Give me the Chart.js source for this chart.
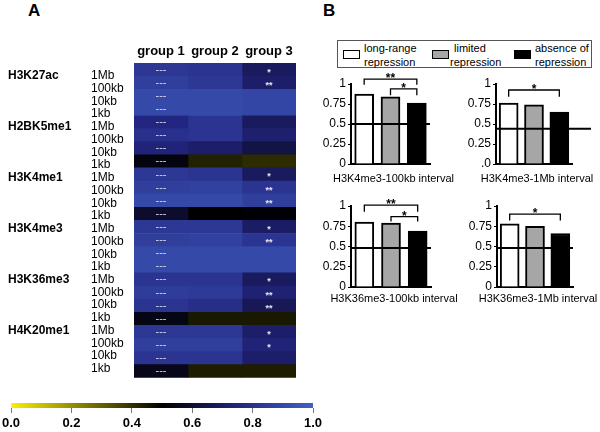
<!DOCTYPE html>
<html>
<head>
<meta charset="utf-8">
<script src="https://cdn.jsdelivr.net/npm/chart.js@4"></script>
<style>
body{margin:0;width:600px;height:432px;position:relative;background:#fff;font-family:"Liberation Sans",Arial,sans-serif;overflow:hidden}
canvas{position:absolute}
.panel{position:absolute;font-weight:bold;font-size:17px;line-height:17px}
#legend{position:absolute;left:337px;top:40px;width:253px;height:26px;border:1.5px solid #555;font-size:11px;line-height:14px}
.sw{position:absolute;top:9px;width:17px;height:9px;border:1.5px solid #000;box-sizing:border-box}
.lt{position:absolute;white-space:nowrap}
</style>
</head>
<body>
<div class="panel" style="left:28px;top:2px">A</div>
<div class="panel" style="left:323px;top:2px">B</div>

<canvas id="heat" width="330" height="385" style="left:0;top:0"></canvas>
<canvas id="cbar" width="331" height="37" style="left:-1px;top:395px"></canvas>

<div id="legend">
  <div class="sw" style="left:5px;background:#fff"></div>
  <div class="lt" style="left:26px;top:0">long-range</div>
  <div class="lt" style="left:26px;top:14px">repression</div>
  <div class="sw" style="left:94px;background:#a6a6a6"></div>
  <div class="lt" style="left:116px;top:0">limited</div>
  <div class="lt" style="left:112px;top:14px">repression</div>
  <div class="sw" style="left:176px;background:#000"></div>
  <div class="lt" style="left:197px;top:0">absence of</div>
  <div class="lt" style="left:197px;top:14px">repression</div>
</div>

<canvas id="b1" width="152" height="120" style="left:305px;top:70px"></canvas>
<canvas id="b2" width="150" height="120" style="left:450px;top:70px"></canvas>
<canvas id="b3" width="158" height="118" style="left:305px;top:192px"></canvas>
<canvas id="b4" width="149" height="118" style="left:451px;top:192px"></canvas>

<script>
const FONT = '"Liberation Sans", Arial, sans-serif';

// panel A data
const marks = ['H3K27ac', 'H2BK5me1', 'H3K4me1', 'H3K4me3', 'H3K36me3', 'H4K20me1'];
const sizes = ['1Mb', '100kb', '10kb', '1kb'];
const groups = ['group 1', 'group 2', 'group 3'];
const group1 = [0.83,0.86,0.90,0.90, 0.76,0.80,0.74,0.53, 0.83,0.86,0.90,0.59, 0.83,0.86,0.90,0.90, 0.82,0.85,0.82,0.54, 0.83,0.86,0.82,0.55];
const group2 = [0.82,0.83,0.90,0.90, 0.82,0.82,0.71,0.43, 0.82,0.87,0.90,0.50, 0.83,0.87,0.90,0.90, 0.82,0.84,0.79,0.45, 0.83,0.86,0.82,0.44];
const group3 = [0.69,0.71,0.89,0.89, 0.69,0.72,0.64,0.41, 0.69,0.82,0.86,0.51, 0.70,0.82,0.90,0.90, 0.69,0.73,0.67,0.45, 0.71,0.74,0.71,0.44];
const group3Stars = ['*','**','','', '','','','', '*','**','**','', '*','**','','', '*','**','**','', '*','*','',''];
const cbarTicks = [0, 0.2, 0.4, 0.6, 0.8, 1.0];

// panel B data
const repressionTypes = ['long-range repression', 'limited repression', 'absence of repression'];
const k4me3_100kb = [0.875, 0.84, 0.76];
const k4me3_1Mb = [0.76, 0.74, 0.65];
const k36me3_100kb = [0.80, 0.79, 0.69];
const k36me3_1Mb = [0.78, 0.75, 0.66];
const yTickLabels = ['0', '0.25', '0.5', '0.75', '1'];
const yTickLabelsDot = ['.0', '0.25', '0.5', '0.75', '1'];

// colour scale: yellow -> black -> blue
const cmapPos = [0, 0.5, 0.75, 1];
const cmapRgb = [[250,240,0], [0,0,0], [34,36,125], [66,97,196]];

function cmap(v) {
  for (let i = 1; i < cmapPos.length; i++) {
    if (v <= cmapPos[i]) {
      const t = (v - cmapPos[i-1]) / (cmapPos[i] - cmapPos[i-1]);
      const a = cmapRgb[i-1], b = cmapRgb[i];
      return 'rgb(' + a.map((c, k) => Math.round(c + (b[k] - c) * t)).join(',') + ')';
    }
  }
  return 'rgb(' + cmapRgb[cmapRgb.length-1].join(',') + ')';
}

const rowLabels = [];
marks.forEach(() => sizes.forEach(s => rowLabels.push(s)));

// text inside the cells and the histone mark names
const heatText = {
  id: 'heatText',
  afterDatasetsDraw(chart) {
    const c = chart.ctx, ys = chart.scales.y2;
    c.save();
    c.fillStyle = '#000';
    c.textAlign = 'left';
    c.textBaseline = 'middle';
    c.font = 'bold 12px ' + FONT;
    marks.forEach((m, k) => c.fillText(m, 8, ys.getPixelForValue(k * sizes.length)));

    c.textAlign = 'center';
    c.fillStyle = '#d8d8e4';
    c.font = '11px ' + FONT;
    chart.getDatasetMeta(0).data.forEach(b => c.fillText('---', (b.x + b.base) / 2, b.y));
    c.fillStyle = '#e6e6f0';
    c.font = 'bold 9px ' + FONT;
    c.textBaseline = 'alphabetic';
    chart.getDatasetMeta(2).data.forEach((b, i) => {
      if (group3Stars[i]) c.fillText(group3Stars[i], (b.x + b.base) / 2, b.y + 5);
    });
    c.restore();
  }
};

new Chart(document.getElementById('heat'), {
  type: 'bar',
  data: {
    labels: rowLabels,
    datasets: [group1, group2, group3].map((g, k) => ({
      label: groups[k],
      data: g.map(() => 1),
      backgroundColor: g.map(cmap),
      borderWidth: 0,
      barPercentage: 1,
      categoryPercentage: 1
    }))
  },
  options: {
    indexAxis: 'y',
    responsive: false,
    animation: false,
    events: [],
    layout: { padding: { left: 91, top: 33, right: 34, bottom: 5 } },
    plugins: { legend: { display: false }, tooltip: { enabled: false } },
    scales: {
      x: {
        position: 'top', stacked: true, min: 0, max: 3,
        grid: { display: false, drawTicks: false }, border: { display: false },
        afterBuildTicks: s => { s.ticks = [{ value: 0.5 }, { value: 1.5 }, { value: 2.5 }]; },
        afterFit: s => { s.height = 30; },
        ticks: { autoSkip: false, maxRotation: 0, padding: 4, color: '#000',
                 font: { family: FONT, size: 13, weight: 'bold' },
                 callback: (v, i) => groups[i] }
      },
      y: { stacked: true, display: false },
      // row labels sit on a slightly tighter pitch than the cells
      y2: {
        type: 'linear', position: 'left', reverse: true, offset: false,
        min: -1.01, max: 23.7,
        grid: { display: false, drawTicks: false, offset: false }, border: { display: false },
        afterBuildTicks: s => { s.ticks = rowLabels.map((l, i) => ({ value: i })); },
        afterFit: s => { s.width = 43; },
        ticks: { autoSkip: false, crossAlign: 'far', color: '#000', padding: 0,
                 font: { family: FONT, size: 12 },
                 callback: (v, i) => rowLabels[i] }
      }
    }
  },
  plugins: [heatText]
});

// colour bar
new Chart(document.getElementById('cbar'), {
  type: 'bar',
  data: {
    labels: [''],
    datasets: [{
      data: [[cbarTicks[0], cbarTicks[cbarTicks.length-1]]],
      barPercentage: 1, categoryPercentage: 1, borderWidth: 0,
      backgroundColor: ctx => {
        const ch = ctx.chart;
        if (!ch.chartArea) return '#000';
        const xs = ch.scales.x;
        const g = ch.ctx.createLinearGradient(xs.getPixelForValue(0), 0, xs.getPixelForValue(1), 0);
        cmapPos.forEach((p, i) => g.addColorStop(p, 'rgb(' + cmapRgb[i].join(',') + ')'));
        return g;
      }
    }]
  },
  options: {
    indexAxis: 'y',
    responsive: false,
    animation: false,
    events: [],
    layout: { padding: { left: 0, top: 8, right: 17, bottom: 0 } },
    plugins: { legend: { display: false }, tooltip: { enabled: false } },
    scales: {
      x: {
        min: 0, max: 1,
        afterBuildTicks: s => { s.ticks = cbarTicks.map(v => ({ value: v })); },
        afterFit: s => { s.height = 24; },
        grid: { display: true, drawOnChartArea: false, tickLength: 5, color: '#777' },
        border: { display: false },
        ticks: { padding: 3, color: '#000', maxRotation: 0,
                 font: { family: FONT, size: 13, weight: 'bold' },
                 callback: v => v.toFixed(1) }
      },
      y: { display: false }
    }
  }
});

// panel B: reference line, significance brackets and the caption under each chart
const refLine = {
  id: 'refLine',
  afterDatasetsDraw(chart, args, o) {
    const c = chart.ctx, xs = chart.scales.x, ys = chart.scales.y, a = chart.chartArea;
    c.save();
    c.strokeStyle = '#000';
    c.lineWidth = 2;
    const y = ys.getPixelForValue(o.value);
    c.beginPath();
    c.moveTo(xs.getPixelForValue(-0.5), y);
    c.lineTo(xs.getPixelForValue(o.end), y);
    c.stroke();

    c.lineWidth = 1.3;
    c.fillStyle = '#000';
    c.textAlign = 'center';
    c.textBaseline = 'alphabetic';
    c.font = 'bold 12px ' + FONT;
    o.brackets.forEach(b => {
      const x1 = xs.getPixelForValue(b.from), x2 = xs.getPixelForValue(b.to);
      const top = ys.getPixelForValue(b.top), leg = ys.getPixelForValue(b.leg);
      c.beginPath();
      c.moveTo(x1, leg); c.lineTo(x1, top); c.lineTo(x2, top); c.lineTo(x2, leg);
      c.stroke();
      c.fillText(b.mark, (x1 + x2) / 2, top + 3);
    });

    c.font = '11px ' + FONT;
    c.textBaseline = 'middle';
    c.fillText(o.title, (a.left + a.right) / 2 + 3, a.bottom + o.titleGap);
    c.restore();
  }
};

function repressionChart(id, values, tickLabels, padRight, xHeight, ref) {
  new Chart(document.getElementById(id), {
    type: 'bar',
    data: {
      labels: repressionTypes,
      datasets: [{
        label: ref.title,
        data: values,
        backgroundColor: ['#fff', '#a6a6a6', '#000'],
        borderColor: '#000',
        borderWidth: 2,
        barThickness: 19
      }]
    },
    options: {
      responsive: false,
      animation: false,
      events: [],
      layout: { padding: { left: 0, top: 14, right: padRight, bottom: 0 } },
      plugins: { legend: { display: false }, tooltip: { enabled: false }, refLine: ref },
      scales: {
        x: {
          ticks: { display: false },
          grid: { display: false, drawTicks: false },
          border: { display: true, color: '#000', width: 2 },
          afterFit: s => { s.height = xHeight; }
        },
        y: {
          min: 0, max: 1,
          afterBuildTicks: s => { s.ticks = [0, 0.25, 0.5, 0.75, 1].map(v => ({ value: v })); },
          afterFit: s => { s.width = 46; },
          grid: { display: true, drawOnChartArea: false, tickLength: 3, color: '#000' },
          border: { display: true, color: '#000', width: 2 },
          ticks: { color: '#000', padding: 2, font: { family: FONT, size: 12 },
                   callback: (v, i) => tickLabels[i] }
        }
      }
    },
    plugins: [refLine]
  });
}

repressionChart('b1', k4me3_100kb, yTickLabels, 27, 26,
  { title: 'H3K4me3-100kb interval', titleGap: 15, value: 0.5, end: 2.5, brackets: [
    { from: 0, to: 2, top: 1.06, leg: 0.99, mark: '**' },
    { from: 1, to: 2, top: 0.94, leg: 0.86, mark: '*' } ] });
repressionChart('b2', k4me3_1Mb, yTickLabelsDot, 28, 26,
  { title: 'H3K4me3-1Mb interval', titleGap: 15, value: 0.44, end: 3.25, brackets: [
    { from: 0, to: 2, top: 0.925, leg: 0.84, mark: '*' } ] });
repressionChart('b3', k36me3_100kb, yTickLabels, 32, 23,
  { title: 'H3K36me3-100kb interval', titleGap: 12, value: 0.48, end: 2.5, brackets: [
    { from: 0, to: 2, top: 1.01, leg: 0.93, mark: '**' },
    { from: 1, to: 2, top: 0.87, leg: 0.81, mark: '*' } ] });
repressionChart('b4', k36me3_1Mb, yTickLabels, 27, 23,
  { title: 'H3K36me3-1Mb interval', titleGap: 12, value: 0.48, end: 2.5, brackets: [
    { from: 0, to: 2, top: 0.9, leg: 0.82, mark: '*' } ] });
</script>
</body>
</html>
